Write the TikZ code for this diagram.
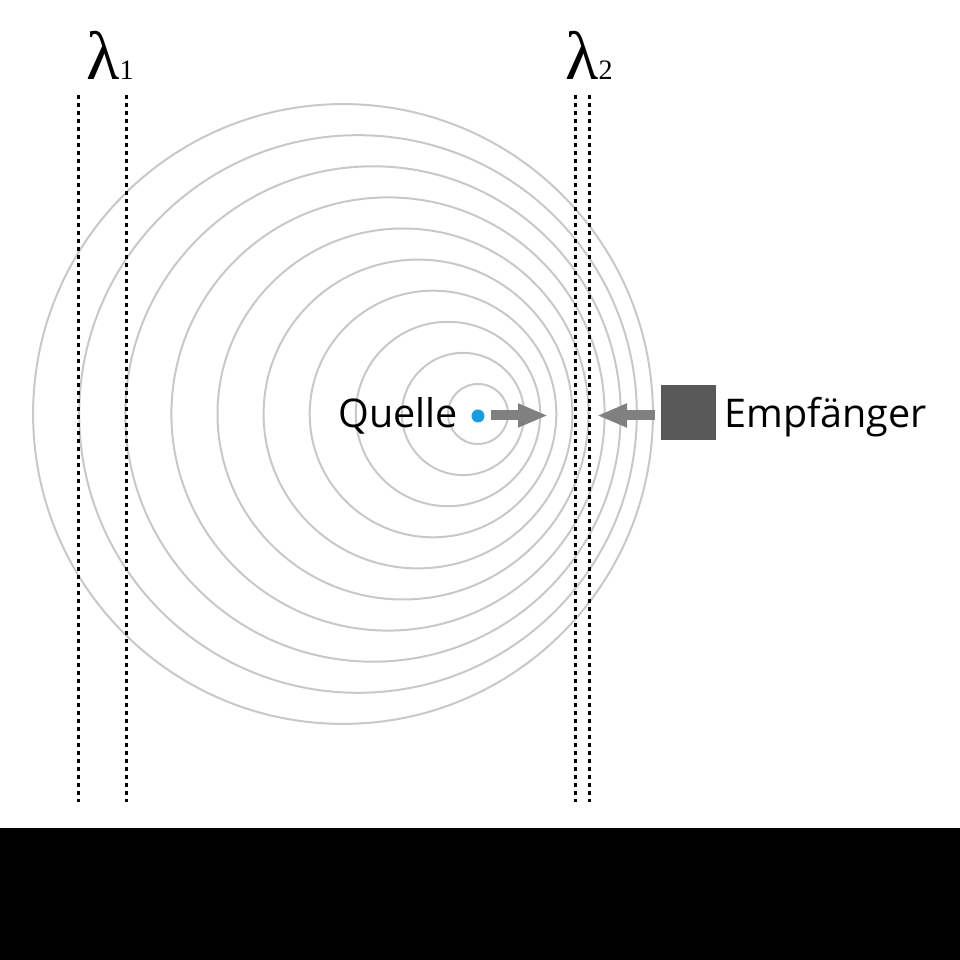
\documentclass[tikz,border=0pt]{standalone}
\usepackage{fontspec}
\setmainfont{Open Sans}
\newfontfamily\lamfont{Liberation Serif}
\usepackage{xcolor}
\usetikzlibrary{arrows.meta,positioning}
\definecolor{wellegrau}{HTML}{C8C8C8}
\definecolor{pfeilgrau}{HTML}{808080}
\definecolor{empfgrau}{HTML}{595959}
\definecolor{quellblau}{HTML}{1B9BE0}
\tikzset{
  welle/.style={draw=wellegrau, line width=0.04cm},
  lamlinie/.style={line width=0.06cm, dash pattern=on 0.08cm off 0.08cm},
  pfeil/.style={draw=pfeilgrau, line width=0.2cm, -{Triangle[length=0.6cm,width=0.44cm,fill=pfeilgrau]}},
  beschr/.style={inner sep=0pt, font=\fontsize{22.5}{27}\selectfont},
  lamtext/.style={inner sep=0pt, font=\lamfont\fontsize{39}{44}\selectfont}
}

\begin{document}
\begin{tikzpicture}[x=0.02cm, y=0.02cm]
\useasboundingbox (0,0) rectangle (960,960);
% schwarzer Streifen unten
\fill[black] (0,0) rectangle (960,132);
% Wellenfronten
\foreach \i in {0,...,9}
  \draw[welle] ({478-15*\i},546) circle[radius={30+31.1*\i}];
% Wellenlaengen
\coordinate (a1) at (78,865); \coordinate (a2) at (78,158);
\coordinate (b1) at (126,865); \coordinate (b2) at (126,158);
\coordinate (c1) at (575,865); \coordinate (c2) at (575,158);
\coordinate (d1) at (589,865); \coordinate (d2) at (589,158);
\draw[lamlinie] (a1) -- (a2); \draw[lamlinie] (b1) -- (b2);
\draw[lamlinie] (c1) -- (c2); \draw[lamlinie] (d1) -- (d2);
\node[lamtext, anchor=base west] (lam1) at (86,880) {λ{\fontsize{16}{18}\selectfont 1}};
\node[lamtext, anchor=base west] (lam2) at (565,880) {λ{\fontsize{16}{18}\selectfont 2}};
% Quelle und Empfaenger
\node[circle, fill=quellblau, minimum size=0.26cm, inner sep=0pt] (quelle) at (478,544) {};
\node[beschr, anchor=base east] (quelletxt) at (458,532) {Quelle};
\node[fill=empfgrau, minimum size=1.1cm, inner sep=0pt] (empf) at (688.5,547) {};
\node[beschr, anchor=base west] (empftxt) at (724,532) {Empfänger};
% Pfeile
\coordinate (q1) at (491,544.5); \coordinate (q2) at (548,544.5);
\coordinate (e1) at (655,544.5); \coordinate (e2) at (597,544.5);
\draw[pfeil] (q1) -- (q2);
\draw[pfeil] (e1) -- (e2);
\end{tikzpicture}
\end{document}
